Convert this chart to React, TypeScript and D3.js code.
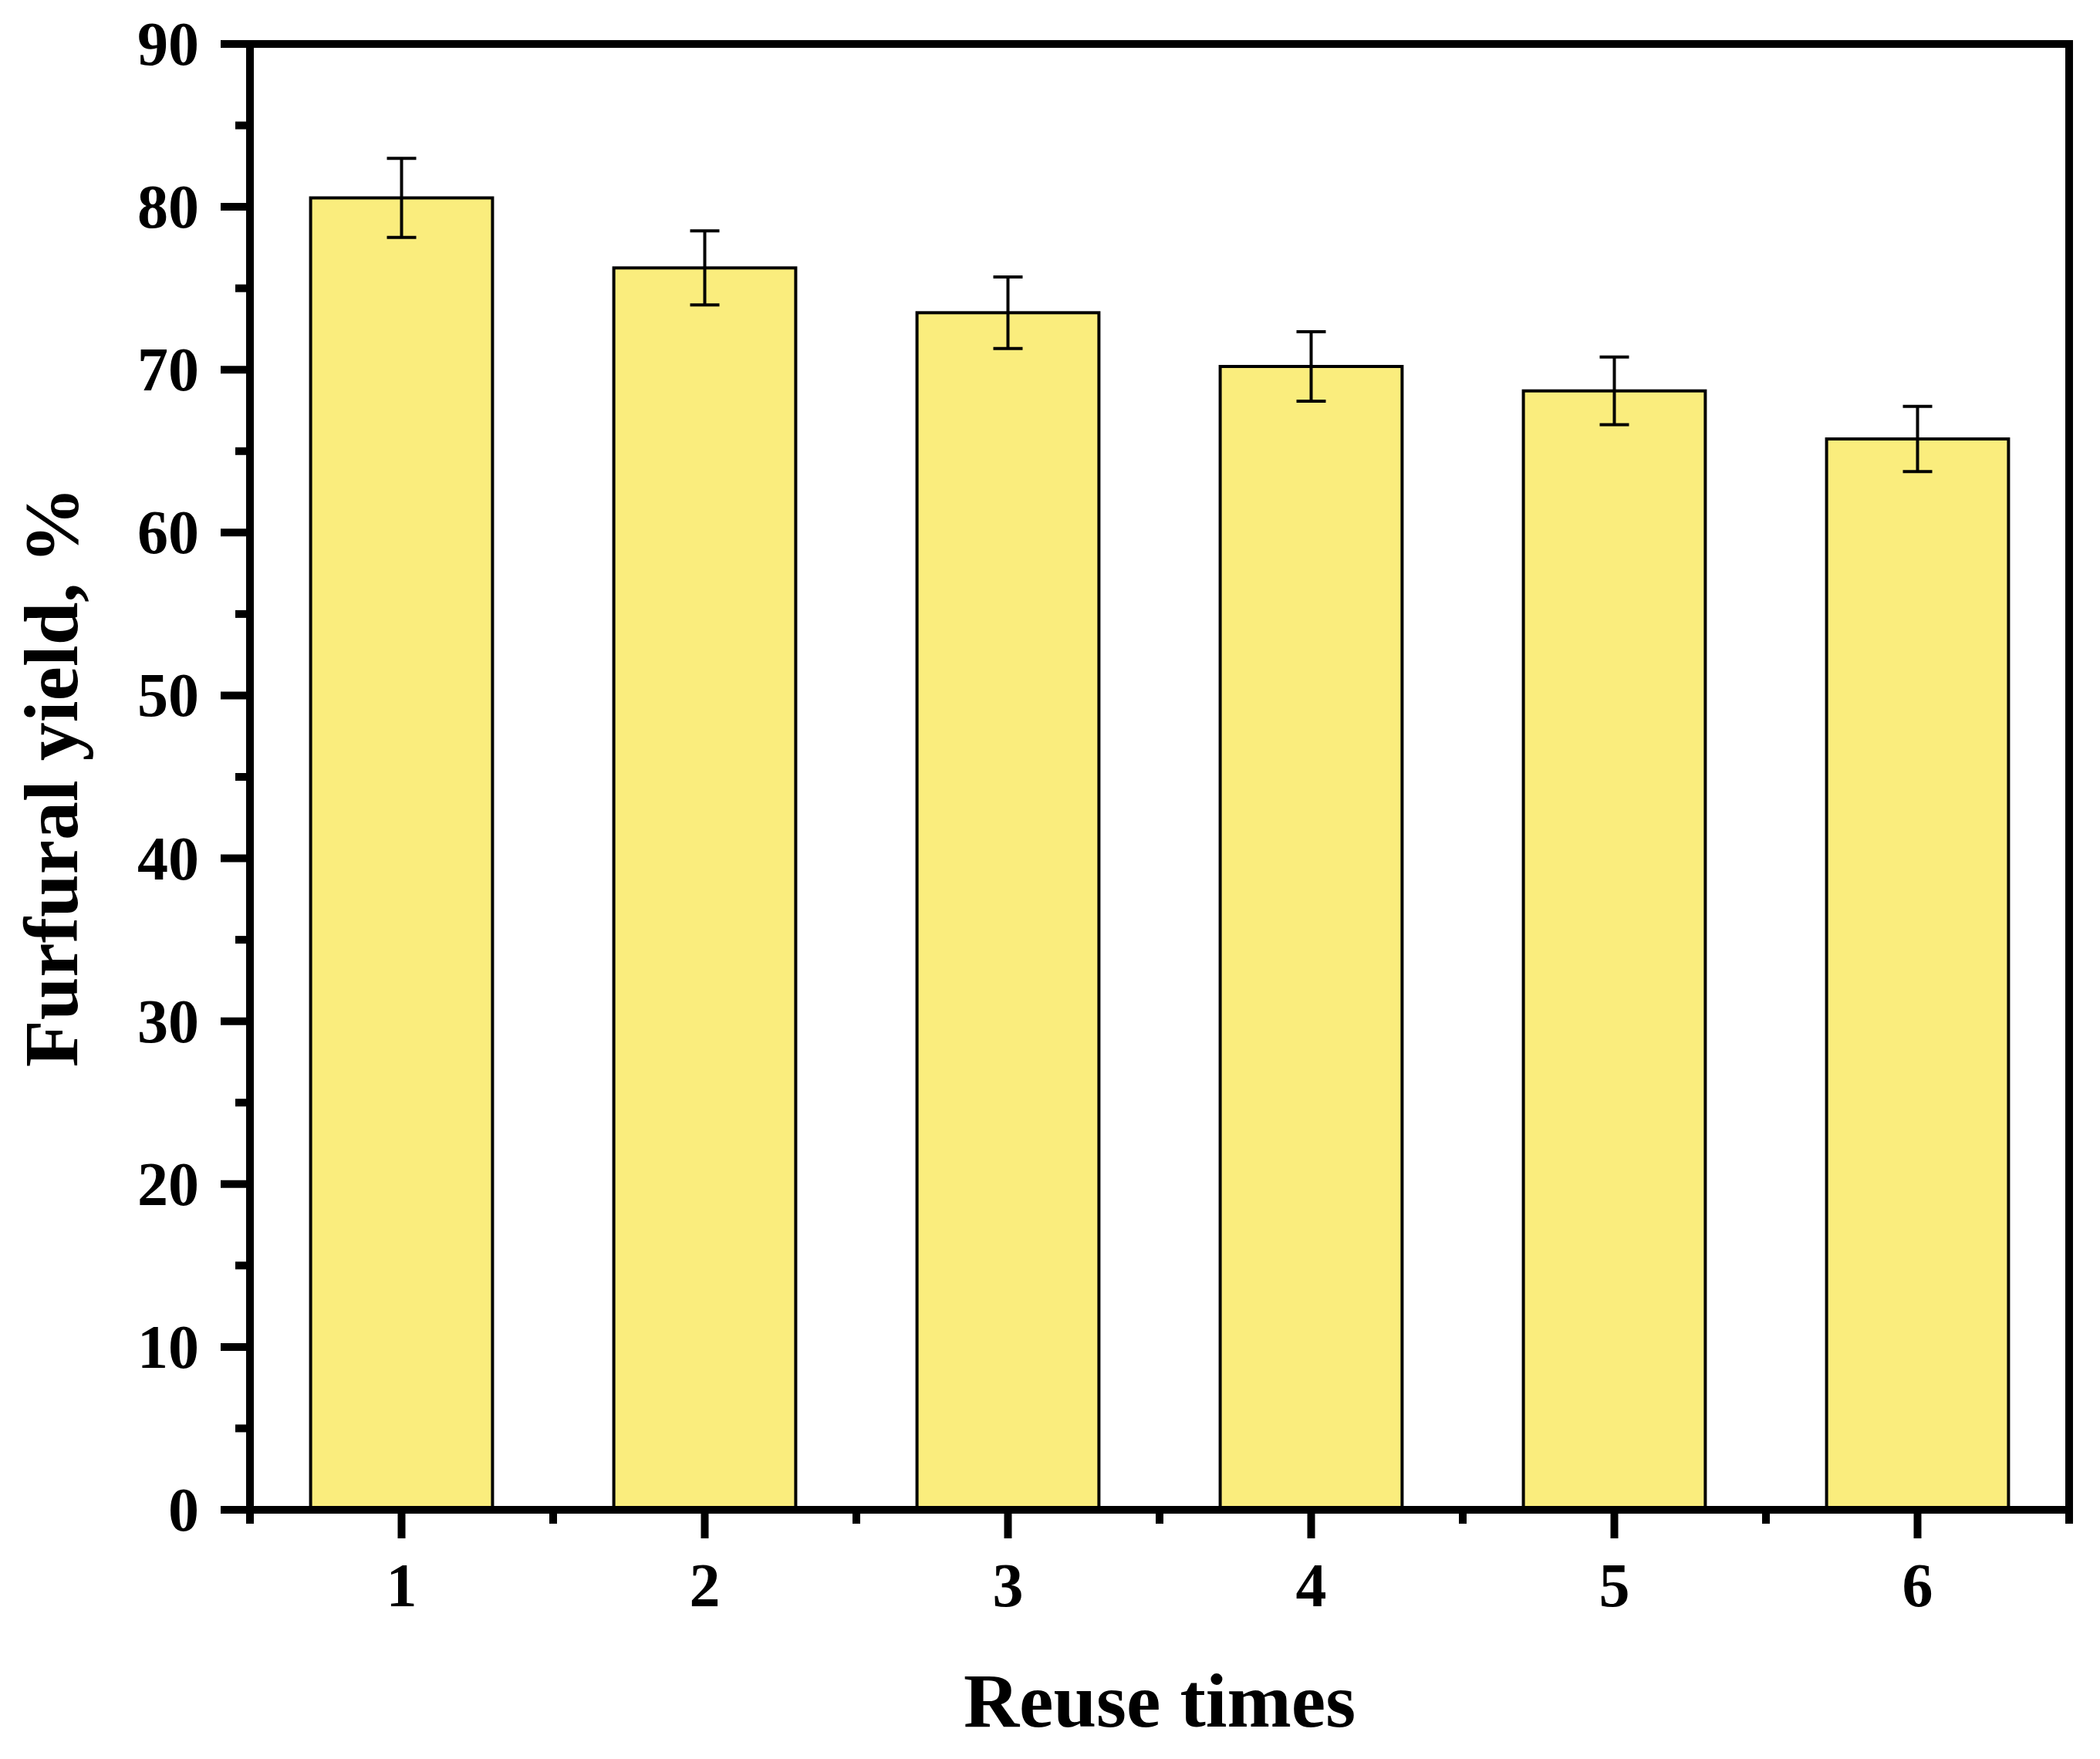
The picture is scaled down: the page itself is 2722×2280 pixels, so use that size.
import React from "react";
import * as d3 from "d3";

const categories = [1, 2, 3, 4, 5, 6];
const yieldValues = [80.55, 76.25, 73.5, 70.2, 68.7, 65.75];
const errors = [2.43, 2.27, 2.2, 2.13, 2.08, 2.0];
const yTicks = [0, 10, 20, 30, 40, 50, 60, 70, 80, 90];
const yMinor = [5, 15, 25, 35, 45, 55, 65, 75, 85];
const xMinor = [0.5, 1.5, 2.5, 3.5, 4.5, 5.5, 6.5];

const W = 2722;
const H = 2280;
const L = 324, R = 2682, T = 57, B = 1957;
const FONT = "'Liberation Serif', 'Times New Roman', serif";

export default function App() {
  const x = d3.scaleLinear().domain([0.5, 6.5]).range([L, R]);
  const y = d3.scaleLinear().domain([0, 90]).range([B, T]);
  const bw = (x(1.3) - x(0.7));
  const capHalf = 19;

  return (
    <svg width={W} height={H} style={{ position: "absolute", left: 0, top: 0, background: "#fff" }}>
      <rect x={0} y={0} width={W} height={H} fill="#fff" />
      {categories.map((c, i) => (
        <rect key={"b" + c} x={x(c) - bw / 2} y={y(yieldValues[i])} width={bw} height={B - y(yieldValues[i])}
          fill="#FAED7D" stroke="#000" strokeWidth={4} />
      ))}
      {categories.map((c, i) => {
        const cx = x(c);
        const y1 = y(yieldValues[i] + errors[i]);
        const y0 = y(yieldValues[i] - errors[i]);
        return (
          <g key={"e" + c} stroke="#000" strokeWidth={4}>
            <line x1={cx} x2={cx} y1={y1} y2={y0} />
            <line x1={cx - capHalf} x2={cx + capHalf} y1={y1} y2={y1} />
            <line x1={cx - capHalf} x2={cx + capHalf} y1={y0} y2={y0} />
          </g>
        );
      })}
      {/* y ticks */}
      {yTicks.map((t) => (
        <g key={"yt" + t}>
          <line x1={L - 38} x2={L} y1={y(t)} y2={y(t)} stroke="#000" strokeWidth={10} />
          <text x={258} y={y(t) + 27} textAnchor="end" fontFamily={FONT} fontWeight="bold" fontSize={80}>{t}</text>
        </g>
      ))}
      {yMinor.map((t) => (
        <line key={"ym" + t} x1={L - 19} x2={L} y1={y(t)} y2={y(t)} stroke="#000" strokeWidth={10} />
      ))}
      {/* x ticks */}
      {categories.map((c) => (
        <g key={"xt" + c}>
          <line x1={x(c)} x2={x(c)} y1={B} y2={B + 37} stroke="#000" strokeWidth={10} />
          <text x={x(c)} y={2082} textAnchor="middle" fontFamily={FONT} fontWeight="bold" fontSize={80}>{c}</text>
        </g>
      ))}
      {xMinor.map((t) => (
        <line key={"xm" + t} x1={x(t)} x2={x(t)} y1={B} y2={B + 18} stroke="#000" strokeWidth={10} />
      ))}
      {/* frame */}
      <rect x={L} y={T} width={R - L} height={B - T} fill="none" stroke="#000" strokeWidth={10} />
      {/* axis titles */}
      <text x={(L + R) / 2} y={2238} textAnchor="middle" fontFamily={FONT} fontWeight="bold" fontSize={100}>Reuse times</text>
      <text transform={`translate(100, ${(T + B) / 2}) rotate(-90)`} textAnchor="middle" fontFamily={FONT} fontWeight="bold" fontSize={100}>Furfural yield, %</text>
    </svg>
  );
}
